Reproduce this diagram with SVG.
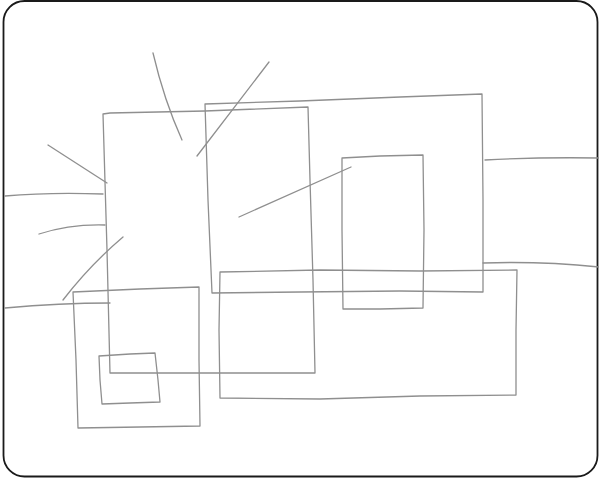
<svg xmlns="http://www.w3.org/2000/svg" width="599" height="478" viewBox="0 0 599 478">
<style>
.p{fill:none;stroke:#8f8f8f;stroke-width:1.3;stroke-linecap:round;stroke-linejoin:round}
</style>
<rect x="0" y="0" width="599" height="478" fill="#ffffff"/>
<rect x="3.5" y="1" width="594" height="475.5" rx="21" ry="21" fill="#ffffff" stroke="#1a1a1a" stroke-width="1.8"/>
<g id="rect-a"><path class="p" d="M103,114 L110,113 L205,111 L308,107 L310,180 L313,280 L315,373 L210,373 L110,373 L107,250 L103,114"/></g>
<g id="rect-b"><path class="p" d="M205,104 L300,101 L400,97 L482,94 L483,200 L483,292 L400,291 L300,292 L212,293 L208,200 L205,104"/></g>
<g id="rect-c"><path class="p" d="M342,158 L380,156 L423,155 L424,230 L423,308 L380,309 L343,309 L342,230 L342,158"/></g>
<g id="rect-d"><path class="p" d="M220,272 L320,270 L420,271 L517,270 L516,330 L516,395 L420,396 L320,399 L220,398 L219,330 L220,272"/></g>
<g id="rect-e"><path class="p" d="M73,292 L140,289 L199,287 L199,360 L200,426 L140,427 L78,428 L76,360 L73,292"/></g>
<g id="rect-f"><path class="p" d="M99,356 L130,354 L155,353 L158,380 L160,402 L130,403 L102,404 L100,380 L99,356"/></g>
<g id="strokes">
<path class="p" d="M153,53 Q164,100 182,140"/>
<path class="p" d="M269,62 L197,156"/>
<path class="p" d="M239,217 L351,167"/>
<path class="p" d="M48,145 L107,183"/>
<path class="p" d="M5,196 Q50,192 103,194"/>
<path class="p" d="M39,234 Q70,224 105,225"/>
<path class="p" d="M123,237 Q90,265 63,300"/>
<path class="p" d="M5,308 Q60,303 110,303"/>
<path class="p" d="M485,160 Q540,157 599,158"/>
<path class="p" d="M483,263 Q540,261 599,267"/>
</g>
</svg>
